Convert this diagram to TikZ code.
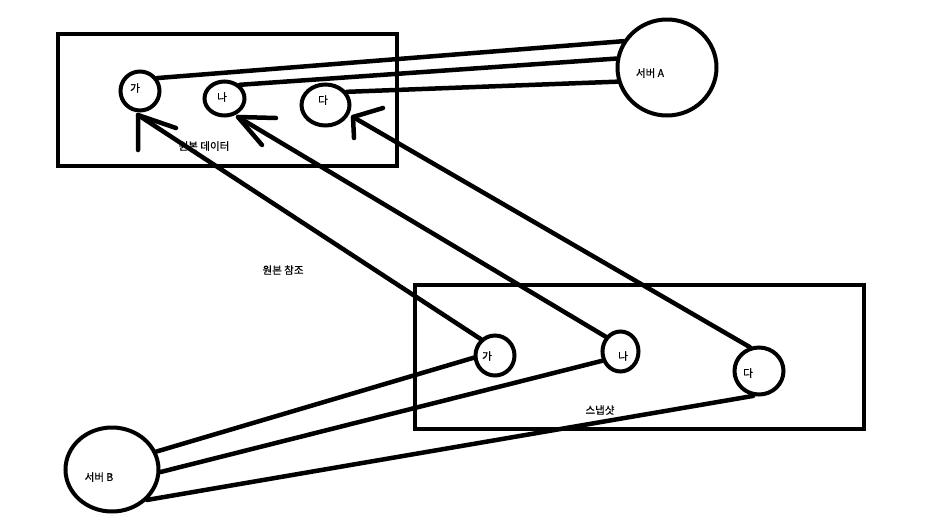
\documentclass[tikz,border=0pt]{standalone}
\usepackage{fontspec}
\setmainfont{Noto Sans CJK KR}
\newfontfamily\labelfont[FakeBold=0.6]{Noto Sans CJK KR}
\usetikzlibrary{shapes.geometric}

\begin{document}
\begin{tikzpicture}[
    x=1pt, y=-1pt,
    box/.style={rectangle, draw, line width=4.5pt, inner sep=0pt},
    item/.style={ellipse, draw, line width=4pt, inner sep=0pt},
    txt/.style={font=\labelfont\fontsize{10.5}{12}\selectfont, inner sep=0pt},
    wire/.style={line width=4.5pt, line cap=round, line join=round}
]
\useasboundingbox (0,0) rectangle (935,523);

% Original data
\node[box, minimum width=339pt, minimum height=132pt] (orig) at (227.5,100) {};
\node[txt] (orig-t) at (204,146) {원본 데이터};
\node[item, minimum width=39pt, minimum height=39pt] (oga) at (140,91) {};
\node[item, minimum width=40pt, minimum height=34pt] (ona) at (224.5,98.5) {};
\node[item, minimum width=48pt, minimum height=41pt] (oda) at (325.5,105) {};
\node[txt] (oga-t) at (135,88) {가};
\node[txt] (ona-t) at (222,97) {나};
\node[txt] (oda-t) at (323,100) {다};

% Snapshot
\node[box, minimum width=449pt, minimum height=144pt] (snap) at (639.5,357) {};
\node[txt] (snap-t) at (600,410) {스냅샷};
\node[item, minimum width=39pt, minimum height=40pt] (sga) at (495,355.5) {};
\node[item, minimum width=36pt, minimum height=40pt] (sna) at (620.5,351.5) {};
\node[item, minimum width=49pt, minimum height=47pt] (sda) at (759,371) {};
\node[txt] (sga-t) at (487,356) {가};
\node[txt] (sna-t) at (623,356) {나};
\node[txt] (sda-t) at (748,373) {다};

% Servers
\node[item, minimum width=99pt, minimum height=96pt] (sva) at (667,67.5) {};
\node[txt] (sva-t) at (650,73) {서버 A};
\node[item, minimum width=93pt, minimum height=84pt] (svb) at (112,469.5) {};
\node[txt] (svb-t) at (99,477) {서버 B};

\node[txt] (ref-t) at (283,270) {원본 참조};

% Arrow tips
\coordinate (ga-tip) at (138,115);
\coordinate (ga-l) at (138,150);
\coordinate (ga-r) at (176,128);
\coordinate (na-tip) at (238,117);
\coordinate (na-l) at (262,145);
\coordinate (na-r) at (276,118);
\coordinate (da-tip) at (353,117);
\coordinate (da-l) at (354,138);
\coordinate (da-r) at (383,108);

% Server A links
\draw[wire] (oga.37) -- (sva.149);
\draw[wire] (ona.42) -- (sva.170);
\draw[wire] (oda.32) -- (sva.196);

% Snapshot references
\draw[wire] (sga.131) -- (ga-tip);
\draw[wire] (ga-l) -- (ga-tip) -- (ga-r);
\draw[wire] (sna.135) -- (na-tip);
\draw[wire] (na-l) -- (na-tip) -- (na-r);
\draw[wire] (sda.111) -- (da-tip);
\draw[wire] (da-l) -- (da-tip) -- (da-r);

% Server B links
\draw[wire] (svb.22) -- (sga.186);
\draw[wire] (svb.-3) -- (sna.207);
\draw[wire] (svb.-41) -- (sda.257);

\end{tikzpicture}
\end{document}
